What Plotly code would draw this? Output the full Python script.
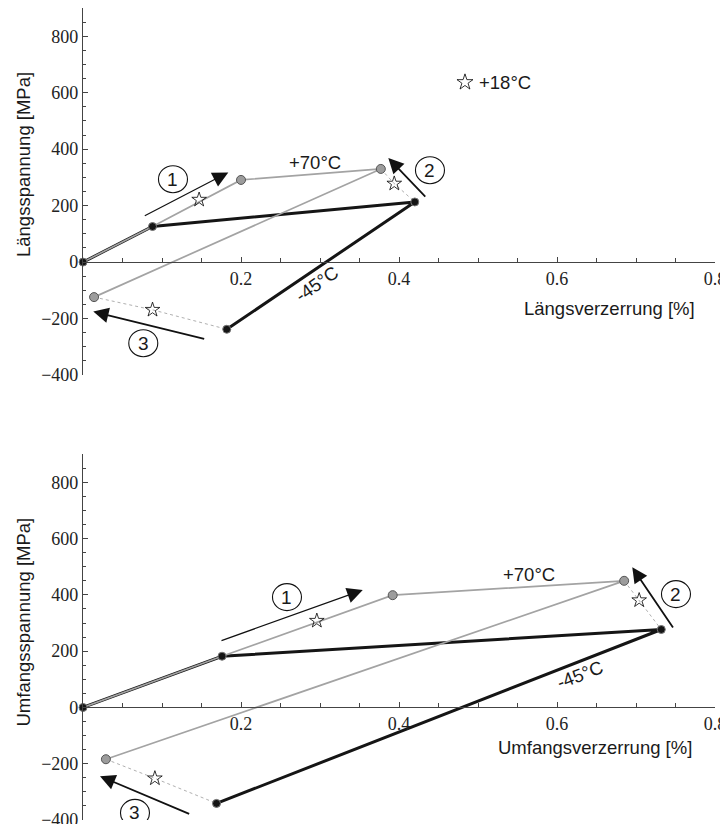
import plotly.graph_objects as go

# ---------------- data: top panel (Längs) ----------------
top_gray_x = [0.0, 0.088, 0.200, 0.377, 0.014]
top_gray_y = [0, 126, 291, 330, -124]
top_black_x = [0.0, 0.088, 0.420, 0.182]
top_black_y = [0, 126, 213, -238]
top_dot_a_x = [0.377, 0.394, 0.420]
top_dot_a_y = [330, 278, 213]
top_dot_b_x = [0.014, 0.088, 0.182]
top_dot_b_y = [-124, -169, -238]
top_star_x = [0.147, 0.394, 0.088]
top_star_y = [221, 278, -169]
legend_star_x = [0.4835]
legend_star_y = [637]

# ---------------- data: bottom panel (Umfangs) ----------------
bot_gray_x = [0.0, 0.176, 0.392, 0.685, 0.029]
bot_gray_y = [0, 182, 399, 450, -184]
bot_black_x = [0.0, 0.176, 0.732, 0.169]
bot_black_y = [0, 182, 277, -341]
bot_dot_a_x = [0.685, 0.704, 0.732]
bot_dot_a_y = [450, 381, 277]
bot_dot_b_x = [0.029, 0.091, 0.169]
bot_dot_b_y = [-184, -252, -341]
bot_star_x = [0.296, 0.704, 0.091]
bot_star_y = [308, 381, -252]

# ---------------- ticks ----------------
x_tickvals = [0.2, 0.4, 0.6, 0.8]
x_ticktext = ["0.2", "0.4", "0.6", "0.8"]
x_minor = [0.05, 0.1, 0.15, 0.25, 0.3, 0.35, 0.45, 0.5, 0.55, 0.65, 0.7, 0.75]
y_tickvals = [-400, -200, 0, 200, 400, 600, 800]
y_ticktext = ["\u2212400", "\u2212200", "0", "200", "400", "600", "800"]
y_minor = [-350, -300, -250, -150, -100, -50, 50, 100, 150, 250, 300, 350,
           450, 500, 550, 650, 700, 750, 850, 900]

GRAY = "#a3a3a3"
BLACK = "#151515"
AXC = "#444444"
SANS = "Liberation Sans"
SERIF = "Liberation Serif"

fig = go.Figure()


def add_panel(xa, ya, gx, gy, bx, by, dax, day, dbx, dby, sx, sy):
    common = dict(xaxis=xa, yaxis=ya, showlegend=False, hoverinfo="skip")
    fig.add_trace(go.Scatter(x=bx, y=by, mode="lines",
                             line=dict(color=BLACK, width=3), **common))
    fig.add_trace(go.Scatter(x=gx, y=gy, mode="lines",
                             line=dict(color=GRAY, width=1.7), **common))
    fig.add_trace(go.Scatter(x=dax, y=day, mode="lines",
                             line=dict(color="#b0b0b0", width=1, dash="dot"), **common))
    fig.add_trace(go.Scatter(x=dbx, y=dby, mode="lines",
                             line=dict(color="#b0b0b0", width=1, dash="dot"), **common))
    fig.add_trace(go.Scatter(x=gx[2:], y=gy[2:], mode="markers",
                             marker=dict(color="#9c9c9c", size=9,
                                         line=dict(color="#555555", width=1)),
                             cliponaxis=False, **common))
    fig.add_trace(go.Scatter(x=bx, y=by, mode="markers",
                             marker=dict(color=BLACK, size=8,
                                         line=dict(color="#777777", width=1)),
                             cliponaxis=False, **common))
    fig.add_trace(go.Scatter(x=sx, y=sy, mode="markers",
                             marker=dict(symbol="star-open", color="black", size=11,
                                         line=dict(color="black", width=0.8)),
                             **common))


add_panel("x", "y", top_gray_x, top_gray_y, top_black_x, top_black_y,
          top_dot_a_x, top_dot_a_y, top_dot_b_x, top_dot_b_y, top_star_x, top_star_y)
add_panel("x2", "y2", bot_gray_x, bot_gray_y, bot_black_x, bot_black_y,
          bot_dot_a_x, bot_dot_a_y, bot_dot_b_x, bot_dot_b_y, bot_star_x, bot_star_y)

fig.add_trace(go.Scatter(x=legend_star_x, y=legend_star_y, mode="markers",
                         marker=dict(symbol="star-open", color="black", size=12,
                                     line=dict(color="black", width=0.8)),
                         showlegend=False, hoverinfo="skip"))

YR = [-400, 900]
top_dom = [0.548, 1.0]
bot_dom = [0.0, 0.4505]

# page body has an 8px margin: shrink the figure so the plot lands where the reference has it
L, R, T, B = 75, 13, 0, 4
W, H = 720, 816
PW = W - L - R


def zero_pos(dom):
    return dom[0] + (0 - YR[0]) / (YR[1] - YR[0]) * (dom[1] - dom[0])


TICKFONT = dict(family=SERIF, size=18, color="#222")


def xaxis_cfg(dom):
    return dict(range=[0, 0.8], domain=[0, 1], anchor="free", position=zero_pos(dom),
                automargin=False, ticklabeloverflow="allow",
                showline=True, linecolor=AXC, linewidth=1.2,
                ticks="inside", ticklen=5, tickcolor=AXC, tickwidth=1,
                tickmode="array", tickvals=x_tickvals, ticktext=x_ticktext,
                minor=dict(tickmode="array", tickvals=x_minor, ticks="inside",
                           ticklen=4, tickcolor=AXC, showgrid=False),
                showgrid=False, zeroline=False,
                tickfont=TICKFONT)


def yaxis_cfg(dom, anchor):
    return dict(range=YR, domain=dom, anchor=anchor, automargin=False,
                ticklabeloverflow="allow",
                showline=True, linecolor=AXC, linewidth=1.2,
                ticks="inside", ticklen=5, tickcolor=AXC, tickwidth=1,
                tickmode="array", tickvals=y_tickvals, ticktext=y_ticktext,
                minor=dict(tickmode="array", tickvals=y_minor, ticks="inside",
                           ticklen=3, tickcolor=AXC, showgrid=False),
                showgrid=False, zeroline=False,
                tickfont=TICKFONT)


fig.update_layout(
    template="none",
    width=W, height=H,
    margin=dict(l=L, r=R, t=T, b=B, autoexpand=False),
    paper_bgcolor="white", plot_bgcolor="white",
    font=dict(family=SERIF, size=18, color="#222"),
    xaxis=xaxis_cfg(top_dom),
    yaxis=yaxis_cfg(top_dom, "x"),
    xaxis2=xaxis_cfg(bot_dom),
    yaxis2=yaxis_cfg(bot_dom, "x2"),
    showlegend=False,
)

ann = []
shapes = []


def txt(xr, yr, x, y, s, size=18.5, angle=0):
    ann.append(dict(xref=xr, yref=yr, x=x, y=y, text=s, showarrow=False,
                    textangle=angle, font=dict(family=SANS, size=size, color="#1a1a1a"),
                    xanchor="center", yanchor="middle"))


def arrow(xr, yr, tail, tip, width, asize):
    ann.append(dict(xref=xr, yref=yr, axref=xr, ayref=yr, x=tip[0], y=tip[1],
                    ax=tail[0], ay=tail[1], text="", showarrow=True, arrowhead=2,
                    arrowsize=asize, arrowwidth=width, arrowcolor="#111", standoff=0))


def circled(xr, yr, pos, label):
    shapes.append(dict(type="circle", xref=xr, yref=yr, xsizemode="pixel",
                       ysizemode="pixel", xanchor=pos[0], yanchor=pos[1],
                       x0=-14.5, x1=14.5, y0=-13.5, y1=13.5,
                       line=dict(color="#111", width=1.1)))
    txt(xr, yr, pos[0], pos[1], label, size=19)


YTITLE_X = (23 - 8 - L) / PW

# top panel annotations
arrow("x", "y", (0.0763, 161.7), (0.1839, 317.7), 1.2, 2.6)
arrow("x", "y", (0.4351, 227), (0.3865, 368.8), 1.8, 1.7)
arrow("x", "y", (0.1553, -273), (0.013, -175.2), 1.8, 1.7)
circled("x", "y", (0.1139, 293.6), "1")
circled("x", "y", (0.4392, 325.5), "2")
circled("x", "y", (0.0763, -287.2), "3")
txt("x", "y", 0.2941, 353.9, "+70°C")
txt("x", "y", 0.2966, -76, "-45°C", angle=-35)
txt("x", "y", 0.534, 637, "+18°C")
txt("x", "y", 0.6665, -166, "Längsverzerrung [%]")
txt("paper", "paper", YTITLE_X, (820 - 165) / 812, "Längsspannung [MPa]", angle=-90)

# bottom panel annotations
arrow("x2", "y2", (0.1734, 235.7), (0.3541, 417.1), 1.2, 2.6)
arrow("x2", "y2", (0.7481, 278.4), (0.6953, 497.8), 1.8, 1.7)
arrow("x2", "y2", (0.1363, -380.4), (0.0215, -244.3), 1.8, 1.7)
circled("x2", "y2", (0.2582, 392.2), "1")
circled("x2", "y2", (0.7506, 402.8), "2")
circled("x2", "y2", (0.0658, -374.8), "3")
txt("x2", "y2", 0.565, 474, "+70°C")
txt("x2", "y2", 0.6297, 118.4, "-45°C", angle=-21)
txt("x2", "y2", 0.6487, -144, "Umfangsverzerrung [%]")
txt("paper", "paper", YTITLE_X, (820 - 622.5) / 812, "Umfangsspannung [MPa]", angle=-90)

fig.update_layout(annotations=ann, shapes=shapes)

fig.write_html("out.html")
